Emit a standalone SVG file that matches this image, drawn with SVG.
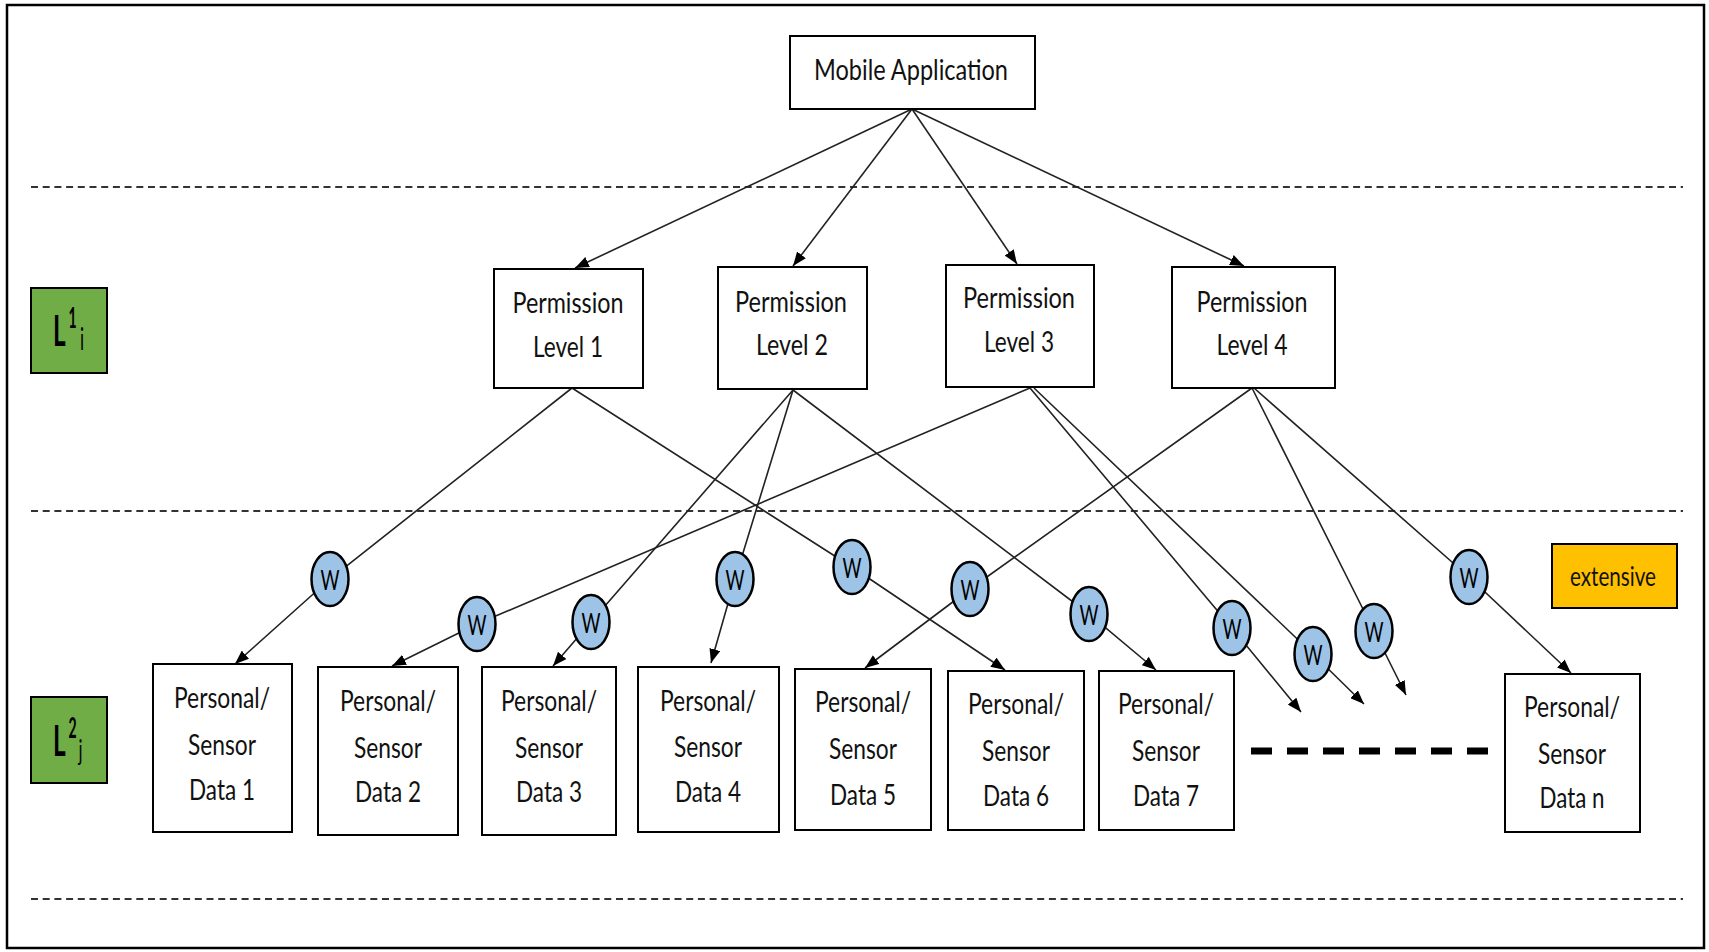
<svg xmlns="http://www.w3.org/2000/svg" width="1709" height="952" viewBox="0 0 1709 952">
<style>
.box{fill:#fff;stroke:#000;stroke-width:2}
.t{font-family:Lato,"Liberation Sans",sans-serif;font-size:29px;fill:#111;text-anchor:middle}
.sep{stroke:#333;stroke-width:2;stroke-dasharray:7 4.7;fill:none}
.con{stroke:#222;stroke-width:1.6;fill:none;marker-end:url(#arr)}
.w{fill:#9DC3E6;stroke:#000;stroke-width:2.5}
.wt{font-family:Lato,"Liberation Sans",sans-serif;font-size:27px;fill:#000;text-anchor:middle}
.lab{fill:#70AD47;stroke:#000;stroke-width:2}
.lt{font-family:Lato,"Liberation Sans",sans-serif;fill:#000;font-weight:bold}
</style>
<defs>
<marker id="arr" viewBox="0 0 14 11" refX="14" refY="5.5" markerWidth="14" markerHeight="11" orient="auto" markerUnits="userSpaceOnUse">
<path d="M0,0 L14,5.5 L0,11 z" fill="#000"/>
</marker>
</defs>
<rect x="0" y="0" width="1709" height="952" fill="#fff"/>
<rect x="7" y="5" width="1697" height="943" fill="none" stroke="#000" stroke-width="2.5"/>
<g id="separators">
<line class="sep" x1="31" y1="187" x2="1683" y2="187"/>
<line class="sep" x1="31" y1="511" x2="1683" y2="511"/>
<line class="sep" x1="31" y1="899" x2="1683" y2="899"/>
</g>
<g id="connectors">
<path class="con" d="M912,109 L575,268"/>
<path class="con" d="M912,109 L793,266"/>
<path class="con" d="M912,109 L1017,264"/>
<path class="con" d="M912,109 L1244,266"/>
<path class="con" d="M572,388 L330,579 L235,664"/>
<path class="con" d="M572,388 L852,567 L1005,670"/>
<path class="con" d="M793,390 L591,622 L553,666"/>
<path class="con" d="M793,390 L735,579 L711,663"/>
<path class="con" d="M793,390 L1089,614 L1156,670"/>
<path class="con" d="M1030,388 L477,624 L392,666"/>
<path class="con" d="M1030,388 L1232,628 L1301,712"/>
<path class="con" d="M1034,388 L1313,654 L1364,704"/>
<path class="con" d="M1252,388 L970,589 L865,668"/>
<path class="con" d="M1252,388 L1374,631 L1406,695"/>
<path class="con" d="M1254,388 L1469,577 L1571,673"/>
<line x1="1251" y1="751" x2="1488" y2="751" stroke="#000" stroke-width="7" stroke-dasharray="21 15"/>
</g>
<g id="mobile-app">
<rect class="box" x="790" y="36" width="245" height="73"/>
<text class="t" x="911" y="80" textLength="194" lengthAdjust="spacingAndGlyphs">Mobile Application</text>
</g>
<g id="perm1">
<rect class="box" x="494" y="269" width="149" height="119"/>
<text class="t" x="568" y="313" textLength="111" lengthAdjust="spacingAndGlyphs">Permission</text>
<text class="t" x="568" y="357" textLength="70" lengthAdjust="spacingAndGlyphs">Level 1</text>
</g>
<g id="perm2">
<rect class="box" x="718" y="267" width="149" height="122"/>
<text class="t" x="791" y="312" textLength="112" lengthAdjust="spacingAndGlyphs">Permission</text>
<text class="t" x="792" y="355" textLength="72" lengthAdjust="spacingAndGlyphs">Level 2</text>
</g>
<g id="perm3">
<rect class="box" x="946" y="265" width="148" height="122"/>
<text class="t" x="1019" y="308" textLength="112" lengthAdjust="spacingAndGlyphs">Permission</text>
<text class="t" x="1019" y="352" textLength="70" lengthAdjust="spacingAndGlyphs">Level 3</text>
</g>
<g id="perm4">
<rect class="box" x="1172" y="267" width="163" height="121"/>
<text class="t" x="1252" y="312" textLength="111" lengthAdjust="spacingAndGlyphs">Permission</text>
<text class="t" x="1252" y="355" textLength="71" lengthAdjust="spacingAndGlyphs">Level 4</text>
</g>
<g id="data1">
<rect class="box" x="153" y="664" width="139" height="168"/>
<text class="t" x="222" y="708" textLength="96" lengthAdjust="spacingAndGlyphs">Personal/</text>
<text class="t" x="222" y="755" textLength="68" lengthAdjust="spacingAndGlyphs">Sensor</text>
<text class="t" x="222" y="800" textLength="66" lengthAdjust="spacingAndGlyphs">Data 1</text>
</g>
<g id="data2">
<rect class="box" x="318" y="667" width="140" height="168"/>
<text class="t" x="388" y="711" textLength="96" lengthAdjust="spacingAndGlyphs">Personal/</text>
<text class="t" x="388" y="758" textLength="68" lengthAdjust="spacingAndGlyphs">Sensor</text>
<text class="t" x="388" y="802" textLength="66" lengthAdjust="spacingAndGlyphs">Data 2</text>
</g>
<g id="data3">
<rect class="box" x="482" y="667" width="134" height="168"/>
<text class="t" x="549" y="711" textLength="96" lengthAdjust="spacingAndGlyphs">Personal/</text>
<text class="t" x="549" y="758" textLength="68" lengthAdjust="spacingAndGlyphs">Sensor</text>
<text class="t" x="549" y="802" textLength="66" lengthAdjust="spacingAndGlyphs">Data 3</text>
</g>
<g id="data4">
<rect class="box" x="638" y="667" width="141" height="165"/>
<text class="t" x="708" y="711" textLength="96" lengthAdjust="spacingAndGlyphs">Personal/</text>
<text class="t" x="708" y="757" textLength="68" lengthAdjust="spacingAndGlyphs">Sensor</text>
<text class="t" x="708" y="802" textLength="66" lengthAdjust="spacingAndGlyphs">Data 4</text>
</g>
<g id="data5">
<rect class="box" x="795" y="669" width="136" height="161"/>
<text class="t" x="863" y="712" textLength="96" lengthAdjust="spacingAndGlyphs">Personal/</text>
<text class="t" x="863" y="759" textLength="68" lengthAdjust="spacingAndGlyphs">Sensor</text>
<text class="t" x="863" y="805" textLength="66" lengthAdjust="spacingAndGlyphs">Data 5</text>
</g>
<g id="data6">
<rect class="box" x="948" y="671" width="136" height="159"/>
<text class="t" x="1016" y="714" textLength="96" lengthAdjust="spacingAndGlyphs">Personal/</text>
<text class="t" x="1016" y="761" textLength="68" lengthAdjust="spacingAndGlyphs">Sensor</text>
<text class="t" x="1016" y="806" textLength="66" lengthAdjust="spacingAndGlyphs">Data 6</text>
</g>
<g id="data7">
<rect class="box" x="1099" y="671" width="135" height="159"/>
<text class="t" x="1166" y="714" textLength="96" lengthAdjust="spacingAndGlyphs">Personal/</text>
<text class="t" x="1166" y="761" textLength="68" lengthAdjust="spacingAndGlyphs">Sensor</text>
<text class="t" x="1166" y="806" textLength="66" lengthAdjust="spacingAndGlyphs">Data 7</text>
</g>
<g id="datan">
<rect class="box" x="1505" y="674" width="135" height="158"/>
<text class="t" x="1572" y="717" textLength="96" lengthAdjust="spacingAndGlyphs">Personal/</text>
<text class="t" x="1572" y="764" textLength="68" lengthAdjust="spacingAndGlyphs">Sensor</text>
<text class="t" x="1572" y="808" textLength="65" lengthAdjust="spacingAndGlyphs">Data n</text>
</g>
<g id="w1"><ellipse class="w" cx="330" cy="579" rx="18.5" ry="27"/><text class="wt" x="330" y="589.5" textLength="19" lengthAdjust="spacingAndGlyphs">W</text></g>
<g id="w2"><ellipse class="w" cx="477" cy="624" rx="18.5" ry="27"/><text class="wt" x="477" y="634.5" textLength="19" lengthAdjust="spacingAndGlyphs">W</text></g>
<g id="w3"><ellipse class="w" cx="591" cy="622" rx="18.5" ry="27"/><text class="wt" x="591" y="632.5" textLength="19" lengthAdjust="spacingAndGlyphs">W</text></g>
<g id="w4"><ellipse class="w" cx="735" cy="579" rx="18.5" ry="27"/><text class="wt" x="735" y="589.5" textLength="19" lengthAdjust="spacingAndGlyphs">W</text></g>
<g id="w5"><ellipse class="w" cx="852" cy="567" rx="18.5" ry="27"/><text class="wt" x="852" y="577.5" textLength="19" lengthAdjust="spacingAndGlyphs">W</text></g>
<g id="w6"><ellipse class="w" cx="970" cy="589" rx="18.5" ry="27"/><text class="wt" x="970" y="599.5" textLength="19" lengthAdjust="spacingAndGlyphs">W</text></g>
<g id="w7"><ellipse class="w" cx="1089" cy="614" rx="18.5" ry="27"/><text class="wt" x="1089" y="624.5" textLength="19" lengthAdjust="spacingAndGlyphs">W</text></g>
<g id="w8"><ellipse class="w" cx="1232" cy="628" rx="18.5" ry="27"/><text class="wt" x="1232" y="638.5" textLength="19" lengthAdjust="spacingAndGlyphs">W</text></g>
<g id="w9"><ellipse class="w" cx="1313" cy="654" rx="18.5" ry="27"/><text class="wt" x="1313" y="664.5" textLength="19" lengthAdjust="spacingAndGlyphs">W</text></g>
<g id="w10"><ellipse class="w" cx="1374" cy="631" rx="18.5" ry="27"/><text class="wt" x="1374" y="641.5" textLength="19" lengthAdjust="spacingAndGlyphs">W</text></g>
<g id="w11"><ellipse class="w" cx="1469" cy="577" rx="18.5" ry="27"/><text class="wt" x="1469" y="587.5" textLength="19" lengthAdjust="spacingAndGlyphs">W</text></g>
<g id="extensive">
<rect x="1552" y="544" width="125" height="64" fill="#FFC000" stroke="#000" stroke-width="2"/>
<text class="t" x="1613" y="586" style="font-size:26px" textLength="86" lengthAdjust="spacingAndGlyphs">extensive</text>
</g>
<g id="label-L1i">
<rect class="lab" x="31" y="288" width="76" height="85"/>
<text class="lt" transform="translate(53,346) scale(0.58,1)" style="font-size:42px">L</text>
<text class="lt" transform="translate(68.5,328) scale(0.5,1)" style="font-size:28px">1</text>
<text class="lt" transform="translate(80,350) scale(0.55,1)" style="font-size:31px;font-weight:normal">i</text>
</g>
<g id="label-L2j">
<rect class="lab" x="31" y="697" width="76" height="86"/>
<text class="lt" transform="translate(53,756) scale(0.58,1)" style="font-size:42px">L</text>
<text class="lt" transform="translate(68.5,738) scale(0.5,1)" style="font-size:28px">2</text>
<text class="lt" transform="translate(78.5,760) scale(0.6,1)" style="font-size:28px;font-weight:normal">j</text>
</g>
</svg>
